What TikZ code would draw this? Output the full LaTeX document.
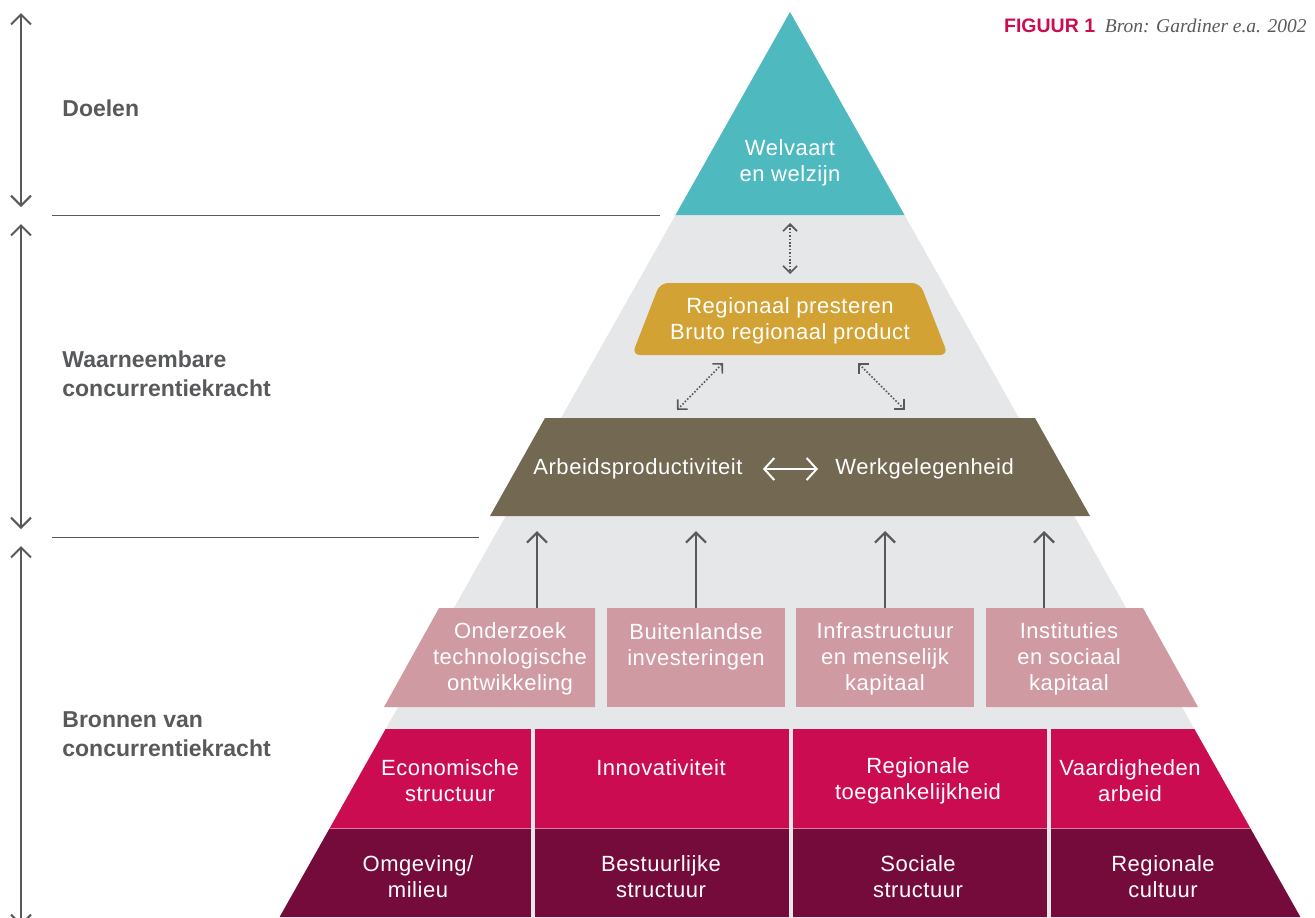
\documentclass[tikz,border=0pt]{standalone}
\usepackage{fontspec}
\setmainfont{Liberation Sans}
\newfontfamily\boxfont{Liberation Sans}[LetterSpace=2.5]
\newfontfamily\bronfont{Liberation Serif}
\usetikzlibrary{arrows.meta,positioning,calc}

\definecolor{tealc}{HTML}{4FB9C0}
\definecolor{pyrgrey}{HTML}{E6E7E8}
\definecolor{goldc}{HTML}{D2A235}
\definecolor{brownc}{HTML}{736851}
\definecolor{rosec}{HTML}{D09AA3}
\definecolor{magc}{HTML}{CC0C50}
\definecolor{wine}{HTML}{740B3B}
\definecolor{txtgrey}{HTML}{58595B}

\begin{document}
\begin{tikzpicture}[
    x=0.5pt, y=-0.5pt,
    box/.style ={inner sep=0pt, align=center, text=white,
                 font=\boxfont\fontsize{11}{13}\selectfont},
    side/.style={inner sep=0pt, align=left, anchor=west, text=txtgrey,
                 font=\fontsize{11.5}{14.5}\selectfont\bfseries},
    span/.style={{Straight Barb[length=5pt,width=10pt]}-{Straight Barb[length=5pt,width=10pt]},
                 line width=1pt, draw=txtgrey},
    up/.style  ={-{Straight Barb[length=5pt,width=10pt]}, line width=1.1pt, draw=txtgrey},
    dots/.style={{Straight Barb[length=3.5pt,width=7pt]}-{Straight Barb[length=3.5pt,width=7pt]},
                 line width=0.8pt, draw=txtgrey, dash pattern=on 0.8pt off 0.9pt},
    link/.style={{Straight Barb[length=5pt,width=11pt]}-{Straight Barb[length=5pt,width=11pt]},
                 line width=1pt, draw=white, shorten <=10pt, shorten >=8.5pt},
    rule/.style={draw=txtgrey, line width=0.5pt}
]
\useasboundingbox (0,0) rectangle (1315,917);
\clip (0,0) rectangle (1315,917);

%–––– PYRAMID –––––––––––––––––––––––––––––––––––––––
\fill[pyrgrey] (790,12) -- (1300.4,917) -- (279.6,917) -- cycle;
\fill[tealc]   (790,12) -- (904.5,215) -- (675.5,215) -- cycle;
\fill[goldc, rounded corners=4pt] (660,283) -- (920,283) -- (948,355) -- (632,355) -- cycle;
\fill[brownc]  (545,418) -- (1035,418) -- (1090,516) -- (490,516) -- cycle;

%–––– SOURCES (pink) –––––––––––––––––––––––––––––––––
\fill[rosec] (439,608) -- (595,608) -- (595,707) -- (384,707) -- cycle;
\fill[rosec] (607,608) rectangle (785,707);
\fill[rosec] (796,608) rectangle (974,707);
\fill[rosec] (986,608) -- (1143,608) -- (1198,707) -- (986,707) -- cycle;

%–––– BASE ROWS –––––––––––––––––––––––––––––––––––––
\fill[magc] (385.6,729) -- (1194.4,729) -- (1250.5,828.5) -- (329.5,828.5) -- cycle;
\fill[wine] (329.5,828.5) -- (1250.5,828.5) -- (1300.4,917) -- (279.6,917) -- cycle;
\draw[magc!55!white, line width=0.5pt] (329.5,828.5) -- (1250.5,828.5);
\foreach \sx in {533,791,1049}
  \fill[pyrgrey] (\sx-2,729) rectangle (\sx+2,917);

% rules to the left
\draw[rule] (52,215) -- (660,215);
\draw[rule] (52,537) -- (479,537);

%–––– SIDE LABELS ––––––––––––––––––––––––––––––––––––
\node (doelen)  [side] at (62,108) {Doelen};
\node (waarn)   [side] at (62,374) {Waarneembare\\concurrentiekracht};
\node (bronnen) [side] at (62,734) {Bronnen van\\concurrentiekracht};

\coordinate (d1) at (21,13);  \coordinate (d2) at (21,207);
\coordinate (w1) at (21,224); \coordinate (w2) at (21,529);
\coordinate (b1) at (21,546); \coordinate (b2) at (21,926);
\foreach \a/\b in {d1/d2, w1/w2, b1/b2}
  \draw[span] (\a) -- (\b);

%–––– CAPTION ––––––––––––––––––––––––––––––––––––––––
\node (bron) [anchor=base east, inner sep=0pt, text=txtgrey,
              font=\bronfont\itshape\fontsize{9.75}{12}\selectfont] at (1307,32)
      {Bron: Gardiner e.a. 2002};
\node (figuur) [left=4.5pt of bron.base west, anchor=base east, inner sep=0pt, text=magc,
                font=\fontsize{9.75}{12}\selectfont\bfseries] {FIGUUR 1};

%–––– GOALS / PERFORMANCE ––––––––––––––––––––––––––––
\node (welvaart) [box] at (790,163) {Welvaart\\en welzijn};
\node (regio)    [box] at (790,321) {Regionaal presteren\\Bruto regionaal product};
\node (arbeid)   [box, anchor=west] at (533,469) {Arbeidsproductiviteit};
\node (werk)     [box, anchor=west] at (835,469) {Werkgelegenheid};
\draw[link] (arbeid.east) -- (werk.west);

\coordinate (v1) at (790,223); \coordinate (v2) at (790,274);
\coordinate (l1) at (723,363); \coordinate (l2) at (677,410);
\coordinate (r1) at (858,363); \coordinate (r2) at (905,410);
\foreach \a/\b in {v1/v2, l1/l2, r1/r2}
  \draw[dots] (\a) -- (\b);

%–––– SOURCES TEXT ––––––––––––––––––––––––––––––––––
\node (onderzoek) [box] at (510,659)  {Onderzoek\\technologische\\ontwikkeling};
\node (buiten)    [box] at (696,647)  {Buitenlandse\\investeringen};
\node (infra)     [box] at (885,659)  {Infrastructuur\\en menselijk\\kapitaal};
\node (instit)    [box] at (1069,659) {Instituties\\en sociaal\\kapitaal};

\foreach \ax/\nm in {537/1, 696/2, 885/3, 1044/4} {
  \coordinate (src\nm) at (\ax,608);
  \coordinate (dst\nm) at (\ax,531);
  \draw[up] (src\nm) -- (dst\nm);
}

%–––– BASE TEXT –––––––––––––––––––––––––––––––––––––
\node (econ)    [box] at (450,781)  {Economische\\structuur};
\node (innov)   [box] at (661,768)  {Innovativiteit};
\node (toeg)    [box] at (918,781)  {Regionale\\toegankelijkheid};
\node (vaard)   [box] at (1130,781) {Vaardigheden\\arbeid};

\node (omg)     [box] at (418,877)  {Omgeving/\\milieu};
\node (bestuur) [box] at (661,877)  {Bestuurlijke\\structuur};
\node (sociaal) [box] at (918,877)  {Sociale\\structuur};
\node (cultuur) [box] at (1163,877) {Regionale\\cultuur};
\end{tikzpicture}
\end{document}
